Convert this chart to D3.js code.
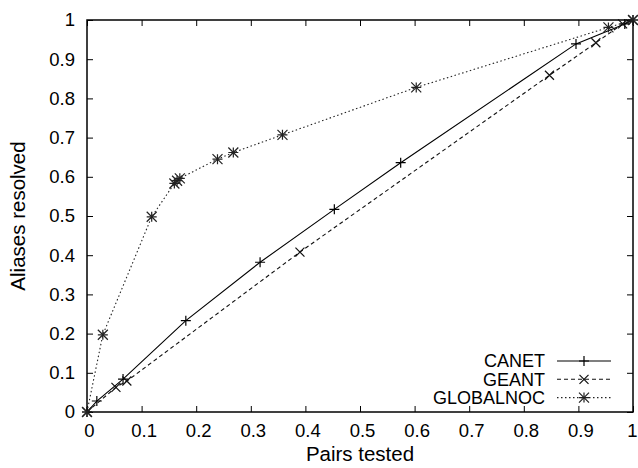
<!DOCTYPE html>
<html>
<head>
<meta charset="utf-8">
<script src="https://cdn.jsdelivr.net/npm/d3@7"></script>
<style>
  html, body { margin: 0; padding: 0; background: #fff; }
  svg { display: block; font-family: "Liberation Sans", Arial, Helvetica, sans-serif; }
</style>
</head>
<body>
<svg id="chart" width="638" height="468"></svg>
<script>
// ---- data ----
const canetX = [0, 0.018, 0.066, 0.181, 0.317, 0.453, 0.5745, 0.8956, 0.985, 1];
const canetY = [0, 0.028, 0.084, 0.233, 0.382, 0.517, 0.636, 0.939, 0.99, 1];

const geantX = [0, 0.053, 0.073, 0.390, 0.847, 0.932, 0.981, 1];
const geantY = [0, 0.063, 0.079, 0.408, 0.859, 0.942, 0.990, 1];

const globalX = [0, 0.029, 0.1185, 0.160, 0.165, 0.170, 0.239, 0.268, 0.358, 0.603, 0.955, 1];
const globalY = [0, 0.197, 0.498, 0.583, 0.590, 0.596, 0.645, 0.662, 0.707, 0.828, 0.981, 1];

const seriesNames = ["CANET", "GEANT", "GLOBALNOC"];
const xTicks = [0, 0.1, 0.2, 0.3, 0.4, 0.5, 0.6, 0.7, 0.8, 0.9, 1];
const yTicks = [0, 0.1, 0.2, 0.3, 0.4, 0.5, 0.6, 0.7, 0.8, 0.9, 1];
const xTitle = "Pairs tested";
const yTitle = "Aliases resolved";

// ---- layout ----
const L = 87, T = 20, R = 633, B = 412;
const svg = d3.select("#chart");
const x = d3.scaleLinear().domain([0, 1]).range([L, R]);
const y = d3.scaleLinear().domain([0, 1]).range([B, T]);
const tickLen = 6;
const fmt = d => d === 0 ? "0" : d === 1 ? "1" : d3.format(".1f")(d);

const axB = d3.axisBottom(x).tickValues(xTicks).tickSize(-tickLen).tickPadding(12).tickFormat(fmt);
const axT = d3.axisTop(x).tickValues(xTicks).tickSize(-tickLen).tickFormat("");
const axL = d3.axisLeft(y).tickValues(yTicks).tickSize(-tickLen).tickPadding(12).tickFormat(fmt);
const axR = d3.axisRight(y).tickValues(yTicks).tickSize(-tickLen).tickFormat("");

function styleAxis(g) {
  g.select(".domain").remove();
  g.selectAll(".tick line").attr("stroke", "#000").attr("stroke-width", 1);
  g.selectAll(".tick text").attr("fill", "#000").attr("font-size", "18.5px")
    .attr("font-family", "Liberation Sans, Arial, sans-serif");
}
const gB = svg.append("g").attr("transform", `translate(0,${B})`).call(axB).call(styleAxis);
gB.selectAll(".tick text").attr("dx", d => d === 1 ? "-1" : "2");
svg.append("g").attr("transform", `translate(0,${T})`).call(axT).call(styleAxis);
svg.append("g").attr("transform", `translate(${L},0)`).call(axL).call(styleAxis);
svg.append("g").attr("transform", `translate(${R},0)`).call(axR).call(styleAxis);

// frame
svg.append("rect").attr("x", L).attr("y", T).attr("width", R - L).attr("height", B - T)
  .attr("fill", "none").attr("stroke", "#000").attr("stroke-width", 1.5);

// titles
svg.append("text").attr("x", (L + R) / 2).attr("y", 461).attr("text-anchor", "middle")
  .attr("font-size", "20.5px").attr("fill", "#000").text(xTitle);
svg.append("text").attr("transform", `translate(25,${(T + B) / 2}) rotate(-90)`)
  .attr("text-anchor", "middle").attr("font-size", "20.5px").attr("fill", "#000").text(yTitle);

// markers
function plus(g, cx, cy, s, color) {
  g.append("path").attr("d", `M${cx - s},${cy}H${cx + s}M${cx},${cy - s}V${cy + s}`)
    .attr("stroke", color).attr("stroke-width", 1.2).attr("fill", "none");
}
function cross(g, cx, cy, s, color) {
  g.append("path").attr("d", `M${cx - s},${cy - s}L${cx + s},${cy + s}M${cx - s},${cy + s}L${cx + s},${cy - s}`)
    .attr("stroke", color).attr("stroke-width", 1.2).attr("fill", "none");
}
function star(g, cx, cy, s, color) { plus(g, cx, cy, s, color); cross(g, cx, cy, s, color); }

const series = [
  { name: seriesNames[0], xs: canetX, ys: canetY, dash: null, color: "#000", marker: plus, ms: 5 },
  { name: seriesNames[1], xs: geantX, ys: geantY, dash: "4,3", color: "#111", marker: cross, ms: 4.5 },
  { name: seriesNames[2], xs: globalX, ys: globalY, dash: "1.5,2.5", color: "#222", marker: star, ms: 5 }
];

const line = d3.line().x(d => x(d[0])).y(d => y(d[1]));
series.forEach(s => {
  const pts = s.xs.map((v, i) => [v, s.ys[i]]);
  const p = svg.append("path").datum(pts).attr("d", line).attr("fill", "none")
    .attr("stroke", s.color).attr("stroke-width", 1.1);
  if (s.dash) p.attr("stroke-dasharray", s.dash);
  const g = svg.append("g");
  pts.forEach(d => s.marker(g, x(d[0]), y(d[1]), s.ms, s.color));
});

// legend
const legTextX = 545, legL = 557, legR = 611, legY0 = 361, legDy = 18.3;
series.forEach((s, i) => {
  const yy = legY0 + i * legDy;
  svg.append("text").attr("x", legTextX).attr("y", yy).attr("dy", "0.35em")
    .attr("text-anchor", "end").attr("font-size", "18px").attr("fill", "#000").text(s.name);
  const lp = svg.append("line").attr("x1", legL).attr("x2", legR).attr("y1", yy).attr("y2", yy)
    .attr("stroke", s.color).attr("stroke-width", 1.1);
  if (s.dash) lp.attr("stroke-dasharray", s.dash);
  const g = svg.append("g");
  s.marker(g, (legL + legR) / 2, yy, s.ms, s.color);
});
</script>
</body>
</html>
